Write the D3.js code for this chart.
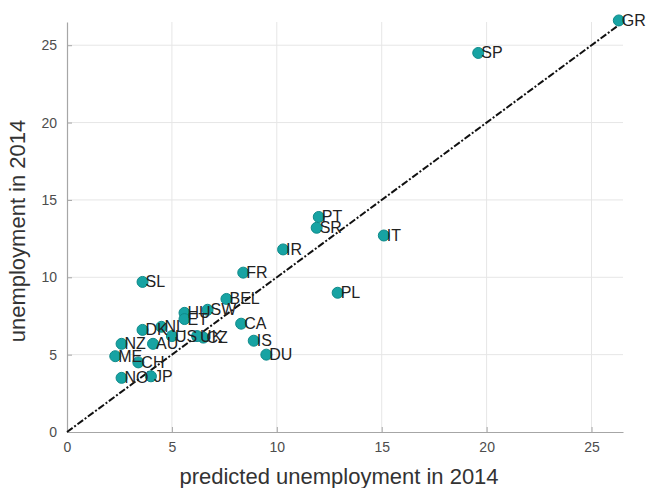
<!DOCTYPE html>
<html>
<head>
<meta charset="utf-8">
<script src="https://cdn.jsdelivr.net/npm/d3@7/dist/d3.min.js"></script>
<style>
  body { margin: 0; background: #fff; }
  text { font-family: Arial, "Liberation Sans", Helvetica, sans-serif; }
</style>
</head>
<body>
<div id="plot"></div>
<script>
// country codes, predicted vs actual unemployment 2014
const countries = ["GR", "SP", "PT", "SR", "IT", "IR", "FR", "PL", "SL", "BEL", "SW", "HU", "ET", "CA", "IS", "DU",
  "CZ", "UK", "US", "AU", "NL", "DK", "NZ", "ME", "CH", "NO", "JP"];
const predicted = [26.3, 19.6, 12.0, 11.9, 15.1, 10.3, 8.4, 12.9, 3.6, 7.6, 6.7, 5.6, 5.6, 8.3, 8.9, 9.5,
  6.5, 6.2, 5.0, 4.1, 4.5, 3.6, 2.6, 2.3, 3.4, 2.6, 4.0];
const actual = [26.6, 24.5, 13.9, 13.2, 12.7, 11.8, 10.3, 9.0, 9.7, 8.6, 7.9, 7.7, 7.3, 7.0, 5.9, 5.0,
  6.1, 6.2, 6.2, 5.7, 6.8, 6.6, 5.7, 4.9, 4.5, 3.5, 3.6];
const ticks = [0, 5, 10, 15, 20, 25];

const width = 649,
  height = 488;
const svg = d3.select("#plot").append("svg").attr("width", width).attr("height", height);

const x = d3.scaleLinear().domain([0, 26.5]).range([67, 623]);
const y = d3.scaleLinear().domain([0, 26.5]).range([432, 22]);

// grid
svg.append("g").selectAll("line").data(ticks.slice(1)).join("line")
  .attr("x1", d => x(d)).attr("x2", d => x(d)).attr("y1", y(0)).attr("y2", y(26.5))
  .attr("stroke", "#e6e6e6").attr("stroke-width", 1);
svg.append("g").selectAll("line").data(ticks.slice(1)).join("line")
  .attr("y1", d => y(d)).attr("y2", d => y(d)).attr("x1", x(0)).attr("x2", x(26.5))
  .attr("stroke", "#e6e6e6").attr("stroke-width", 1);

// axes
const xAxis = svg.append("g").attr("transform", `translate(0,${y(0)})`)
  .call(d3.axisBottom(x).tickValues(ticks).tickSizeInner(-5).tickSizeOuter(0).tickPadding(10));
const yAxis = svg.append("g").attr("transform", `translate(${x(0)},0)`)
  .call(d3.axisLeft(y).tickValues(ticks).tickSizeInner(-5).tickSizeOuter(0).tickPadding(10));
[xAxis, yAxis].forEach(a => {
  a.select(".domain").attr("stroke", "#a6a6a6").attr("stroke-width", 1.2);
  a.selectAll(".tick line").attr("stroke", "#a6a6a6");
  a.selectAll(".tick text").attr("fill", "#4d4d4d").style("font-size", "14px");
});

// 45 degree line
svg.append("line")
  .attr("x1", x(0)).attr("y1", y(0)).attr("x2", x(26.5)).attr("y2", y(26.5))
  .attr("stroke", "#111").attr("stroke-width", 2).attr("stroke-dasharray", "7,2,2,2");

const idx = d3.range(countries.length);

svg.append("g").selectAll("circle").data(idx).join("circle")
  .attr("cx", i => x(predicted[i])).attr("cy", i => y(actual[i])).attr("r", 5.5)
  .attr("fill", "#17a3a3").attr("stroke", "#0f8a8a").attr("stroke-width", 1);

svg.append("g").selectAll("text").data(idx).join("text")
  .attr("x", i => x(predicted[i]) + 3).attr("y", i => y(actual[i]) + 5.5)
  .attr("fill", "#222").style("font-size", "16px")
  .text(i => countries[i]);

// axis titles
svg.append("text").attr("x", 339).attr("y", 484).attr("text-anchor", "middle")
  .attr("fill", "#333").style("font-size", "22px").text("predicted unemployment in 2014");
svg.append("text").attr("transform", "translate(25,231) rotate(-90)").attr("text-anchor", "middle")
  .attr("fill", "#333").style("font-size", "22px").text("unemployment in 2014");
</script>
</body>
</html>
